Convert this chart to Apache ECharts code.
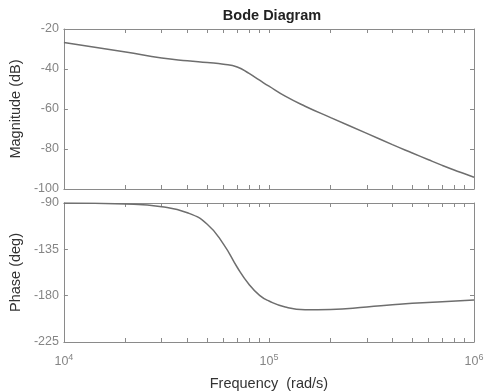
<!DOCTYPE html>
<html>
<head>
<meta charset="utf-8">
<script src="https://cdn.jsdelivr.net/npm/echarts@6/dist/echarts.min.js"></script>
<style>
  html, body { margin: 0; padding: 0; background: #fff; }
  #chart { width: 489px; height: 392px; }
</style>
</head>
<body>
<div id="chart"></div>
<script>
// readings taken off the reference plot
const MAG_FREQ = [1e4, 2e4, 3e4, 4e4, 5e4, 6e4, 7e4, 8e4, 9e4, 1e5, 1.2e5, 1.5e5, 2e5, 3e5, 4e5, 5e5, 6e5, 7e5, 8e5, 9e5, 1e6];
const MAG_DB = [-26.7, -31.5, -34.5, -35.9, -36.8, -37.6, -39.0, -42.2, -45.6, -48.6, -53.6, -58.6, -64.3, -72.2, -77.8, -82.0, -85.4, -88.2, -90.5, -92.4, -94.1];

const PHASE_FREQ = [1e4, 2e4, 3e4, 4e4, 5e4, 6e4, 7e4, 8e4, 9e4, 1e5, 1.2e5, 1.5e5, 2e5, 3e5, 4e5, 5e5, 7e5, 1e6];
const PHASE_DEG = [-90, -91, -93.6, -99.4, -110.6, -129.9, -152.4, -169.1, -179.7, -185.2, -191.0, -193.6, -193.4, -191.0, -188.9, -187.4, -185.8, -184.3];

const TICK_FREQ = [1e4, 2e4, 3e4, 4e4, 5e4, 6e4, 7e4, 8e4, 9e4, 1e5, 2e5, 3e5, 4e5, 5e5, 6e5, 7e5, 8e5, 9e5, 1e6];
const DECADE_EXP = [4, 5, 6];

const FONT = "Liberation Sans, Arial, Helvetica, sans-serif";
const BOX = "#8a8a8a";
const LABEL = "#858585";
const NAME = "#333";
const CURVE = "#6e6e6e";

const tickPos = TICK_FREQ.map((f) => Math.log10(f));

const chart = echarts.init(document.getElementById("chart"), null, { renderer: "canvas" });

function boxX(gridIndex, position, labels) {
  return {
    type: "value",
    gridIndex,
    position,
    min: 4,
    max: 6,
    interval: 1,
    axisLine: { show: true, lineStyle: { color: BOX, width: 1 } },
    axisTick: { show: true, inside: true, length: 4, customValues: tickPos, lineStyle: { color: BOX } },
    axisLabel: labels
      ? {
          show: true,
          customValues: DECADE_EXP,
          margin: 11,
          formatter: (v) => "{b|10}{s|" + v + "}",
          rich: {
            b: { fontSize: 12.5, color: LABEL, fontFamily: FONT },
            s: { fontSize: 9, color: LABEL, fontFamily: FONT, padding: [0, 0, 8, 0] }
          }
        }
      : { show: false },
    splitLine: { show: false },
    name: labels ? "Frequency  (rad/s)" : "",
    nameLocation: "middle",
    nameGap: 34,
    nameTextStyle: { color: NAME, fontSize: 14.5, fontFamily: FONT }
  };
}

function boxY(gridIndex, position, min, max, interval, name) {
  return {
    type: "value",
    gridIndex,
    position,
    min,
    max,
    interval,
    axisLine: { show: true, lineStyle: { color: BOX, width: 1 } },
    axisTick: { show: true, inside: true, length: 4, lineStyle: { color: BOX } },
    axisLabel: name
      ? { show: true, color: LABEL, fontSize: 12.5, fontFamily: FONT, margin: 5 }
      : { show: false },
    splitLine: { show: false },
    name: name || "",
    nameLocation: "middle",
    nameGap: 36,
    nameTextStyle: { color: NAME, fontSize: 14.5, fontFamily: FONT }
  };
}

chart.setOption({
  animation: false,
  backgroundColor: "#fff",
  title: {
    text: "Bode Diagram",
    left: 267,
    top: 3,
    textAlign: "center",
    textStyle: { color: "#222", fontSize: 14.5, fontWeight: "bold", fontFamily: FONT }
  },
  grid: [
    { left: 63, top: 29, width: 411, height: 160 },
    { left: 63, top: 203, width: 411, height: 142 }
  ],
  xAxis: [boxX(0, "bottom", false), boxX(0, "top", false), boxX(1, "bottom", true), boxX(1, "top", false)],
  yAxis: [
    boxY(0, "left", -100, -20, 20, "Magnitude (dB)"),
    boxY(0, "right", -100, -20, 20, null),
    boxY(1, "left", -225, -90, 45, "Phase (deg)"),
    boxY(1, "right", -225, -90, 45, null)
  ],
  series: [
    {
      type: "line",
      xAxisIndex: 0,
      yAxisIndex: 0,
      showSymbol: false,
      smooth: 0.5,
      lineStyle: { color: CURVE, width: 1.5 },
      data: MAG_FREQ.map((f, i) => [Math.log10(f), MAG_DB[i]])
    },
    {
      type: "line",
      xAxisIndex: 2,
      yAxisIndex: 2,
      showSymbol: false,
      smooth: 0.5,
      lineStyle: { color: CURVE, width: 1.5 },
      data: PHASE_FREQ.map((f, i) => [Math.log10(f), PHASE_DEG[i]])
    }
  ]
});
</script>
</body>
</html>
